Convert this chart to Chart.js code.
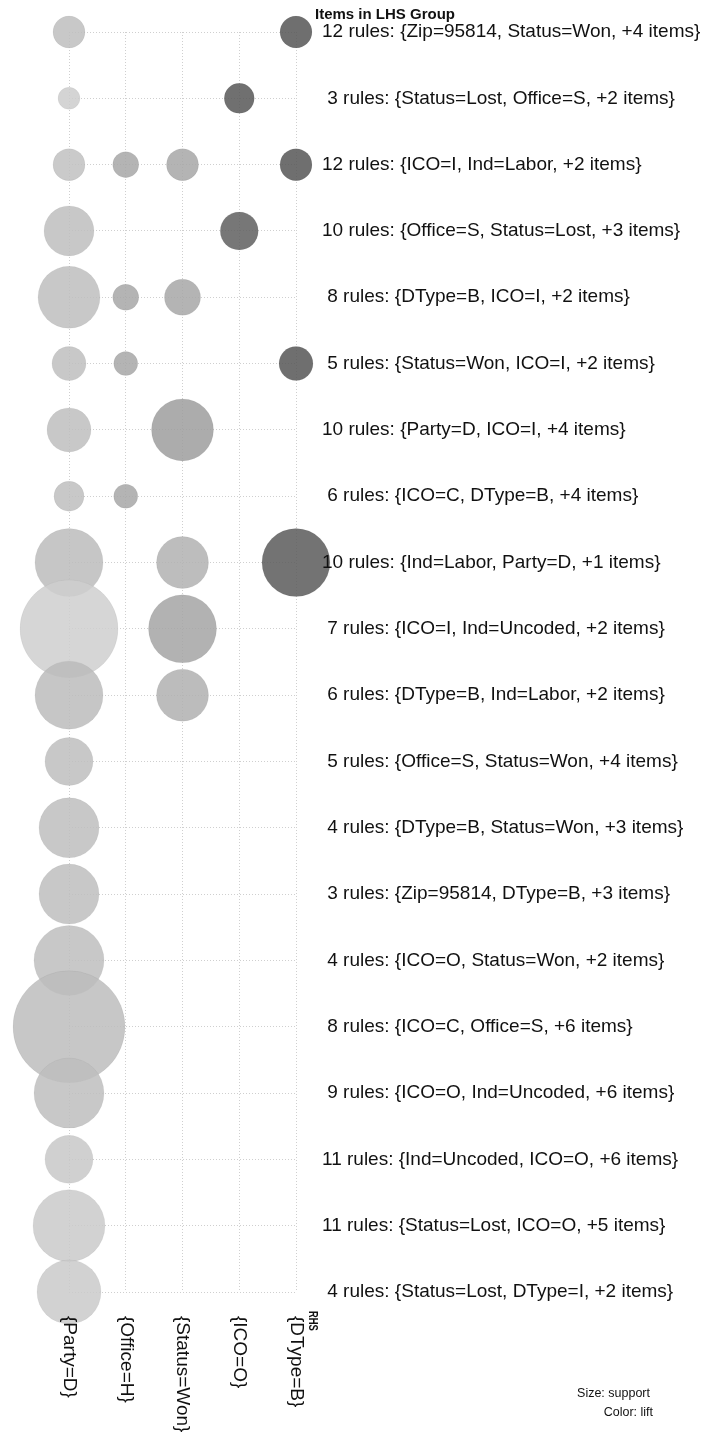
<!DOCTYPE html>
<html>
<head>
<meta charset="utf-8">
<script src="https://cdn.jsdelivr.net/npm/chart.js@4"></script>
<style>
  body { margin: 0; background: #fff; }
  #wrap { width: 706px; height: 1438px; }
</style>
</head>
<body>
<div id="wrap"><canvas id="grouped" width="706" height="1438"></canvas></div>
<script>
// LHS groups (rows, top to bottom)
const groups = [
  '12 rules: {Zip=95814, Status=Won, +4 items}',
  '3 rules: {Status=Lost, Office=S, +2 items}',
  '12 rules: {ICO=I, Ind=Labor, +2 items}',
  '10 rules: {Office=S, Status=Lost, +3 items}',
  '8 rules: {DType=B, ICO=I, +2 items}',
  '5 rules: {Status=Won, ICO=I, +2 items}',
  '10 rules: {Party=D, ICO=I, +4 items}',
  '6 rules: {ICO=C, DType=B, +4 items}',
  '10 rules: {Ind=Labor, Party=D, +1 items}',
  '7 rules: {ICO=I, Ind=Uncoded, +2 items}',
  '6 rules: {DType=B, Ind=Labor, +2 items}',
  '5 rules: {Office=S, Status=Won, +4 items}',
  '4 rules: {DType=B, Status=Won, +3 items}',
  '3 rules: {Zip=95814, DType=B, +3 items}',
  '4 rules: {ICO=O, Status=Won, +2 items}',
  '8 rules: {ICO=C, Office=S, +6 items}',
  '9 rules: {ICO=O, Ind=Uncoded, +6 items}',
  '11 rules: {Ind=Uncoded, ICO=O, +6 items}',
  '11 rules: {Status=Lost, ICO=O, +5 items}',
  '4 rules: {Status=Lost, DType=I, +2 items}'
];

// RHS items (columns)
const rhsItems = ['{Party=D}', '{Office=H}', '{Status=Won}', '{ICO=O}', '{DType=B}'];

// support per group, one array per RHS item (null = no rules)
const supParty  = [0.010, 0.0047, 0.010, 0.0244, 0.0375, 0.0113, 0.0189, 0.0088, 0.0452, 0.0938,
                   0.0452, 0.0225, 0.0352, 0.0352, 0.0479, 0.1225, 0.0479, 0.0225, 0.0506, 0.040];
const supOffice = [null, null, 0.0066, null, 0.0066, 0.0056, null, 0.0056, null, null,
                   null, null, null, null, null, null, null, null, null, null];
const supStatus = [null, null, 0.010, null, 0.0127, null, 0.0375, null, 0.0264, 0.0452,
                   0.0264, null, null, null, null, null, null, null, null, null];
const supICO    = [null, 0.0088, null, 0.0141, null, null, null, null, null, null,
                   null, null, null, null, null, null, null, null, null, null];
const supDType  = [0.010, null, 0.010, null, null, 0.0113, null, null, 0.0452, null,
                   null, null, null, null, null, null, null, null, null, null];

// lift per group, one array per RHS item
const liftParty  = [1.2, 1.08, 1.18, 1.2, 1.2, 1.2, 1.2, 1.2, 1.22, 1.06,
                    1.22, 1.2, 1.2, 1.2, 1.2, 1.21, 1.2, 1.12, 1.1, 1.1];
const liftOffice = [null, null, 1.4, null, 1.4, 1.4, null, 1.4, null, null,
                    null, null, null, null, null, null, null, null, null, null];
const liftStatus = [null, null, 1.4, null, 1.4, null, 1.48, null, 1.31, 1.42,
                    1.32, null, null, null, null, null, null, null, null, null];
const liftICO    = [null, 2.08, null, 2.01, null, null, null, null, null, null,
                    null, null, null, null, null, null, null, null, null, null];
const liftDType  = [2.09, null, 2.09, null, null, 2.09, null, null, 2.05, null,
                    null, null, null, null, null, null, null, null, null, null];

const supports = [supParty, supOffice, supStatus, supICO, supDType];
const lifts = [liftParty, liftOffice, liftStatus, liftICO, liftDType];

const FONT = '"Liberation Sans", Arial, sans-serif';
const ALPHA = 0.85;

// lighter grey = low lift, dark grey = high lift
function liftColor(l) {
  const g = Math.max(0, Math.min(255, 220 - (l - 1) * 100));
  const base = Math.round(255 - (255 - g) / ALPHA);
  return `rgba(${base},${base},${base},${ALPHA})`;
}

const datasets = rhsItems.map((item, col) => ({
  label: item,
  clip: false,
  data: groups
    .map((g, row) => supports[col][row] == null ? null
      : { x: col, y: row, r: 160 * Math.sqrt(supports[col][row]), lift: lifts[col][row] })
    .filter(p => p !== null),
  backgroundColor: ctx => liftColor(ctx.raw.lift),
  borderColor: 'rgba(0,0,0,0.04)',
  borderWidth: 1
}));

const extraText = {
  id: 'extraText',
  afterDraw(chart) {
    const { ctx, scales } = chart;
    ctx.save();
    ctx.fillStyle = '#111';
    // rotated RHS labels
    ctx.font = `19px ${FONT}`;
    ctx.textAlign = 'left';
    ctx.textBaseline = 'middle';
    rhsItems.forEach((item, i) => {
      ctx.save();
      ctx.translate(scales.x.getPixelForValue(i), 1316);
      ctx.rotate(Math.PI / 2);
      ctx.fillText(item, 0, 0);
      ctx.restore();
    });
    ctx.save();
    ctx.font = `bold 12px ${FONT}`;
    ctx.translate(312, 1311);
    ctx.rotate(Math.PI / 2);
    ctx.scale(0.78, 1);
    ctx.fillText('RHS', 0, 0);
    ctx.restore();
    // header
    ctx.font = `bold 15px ${FONT}`;
    ctx.fillText('Items in LHS Group', 315, 15);
    // size / color legend
    ctx.font = `12.5px ${FONT}`;
    ctx.textAlign = 'right';
    ctx.fillText('Size: support', 650, 1394);
    ctx.fillText('Color: lift', 653, 1413);
    ctx.restore();
  }
};

new Chart(document.getElementById('grouped'), {
  type: 'bubble',
  data: { datasets },
  options: {
    responsive: false,
    animation: false,
    layout: { autoPadding: false, padding: { left: 69, top: 32, right: 0, bottom: 0 } },
    plugins: { legend: { display: false }, tooltip: { enabled: false } },
    scales: {
      x: {
        type: 'linear',
        min: 0,
        max: rhsItems.length - 1,
        ticks: { stepSize: 1, display: false },
        grid: { color: '#cfcfcf', drawTicks: false, lineWidth: 1 },
        border: { display: false, dash: [1, 2] },
        afterFit: s => { s.height = 146; s.paddingLeft = 0; s.paddingRight = 0; }
      },
      y: {
        type: 'linear',
        position: 'right',
        reverse: true,
        min: 0,
        max: groups.length - 1,
        ticks: {
          stepSize: 1,
          autoSkip: false,
          crossAlign: 'near',
          padding: 26,
          z: 1,
          color: '#111',
          font: { family: FONT, size: 19 },
          // R pads the rule counts to equal width
          callback: v => (/^\d\s/.test(groups[v]) ? ' ' : '') + groups[v]
        },
        grid: { color: '#cfcfcf', drawTicks: false, lineWidth: 1 },
        border: { display: false, dash: [1, 2] },
        afterFit: s => { s.width = 410; s.paddingTop = 0; s.paddingBottom = 0; }
      }
    }
  },
  plugins: [extraText]
});
</script>
</body>
</html>
